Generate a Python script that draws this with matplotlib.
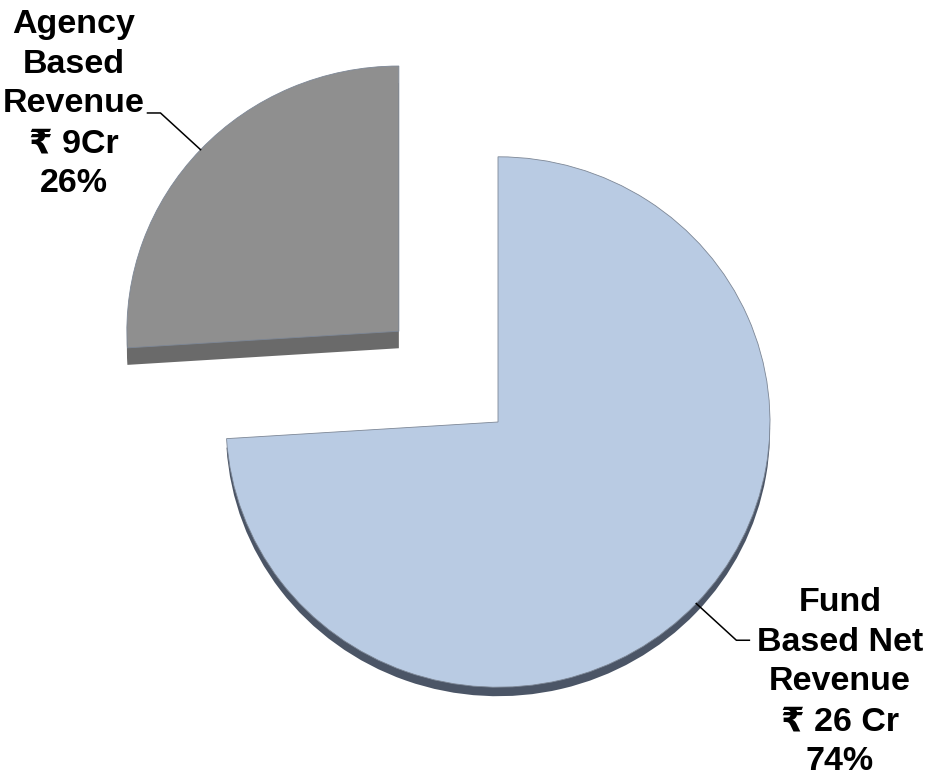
import matplotlib.pyplot as plt
import numpy as np

# data
labels = ['Fund\nBased Net\nRevenue\n₹ 26 Cr\n74%', 'Agency\nBased\nRevenue\n₹ 9Cr\n26%']
revenue_cr = [26, 9]
shares = [74, 26]

colors = ['#B9CBE3', '#8F8F8F']
side_colors = ['#4B5566', '#6A6A6A']
explode_frac = [0, 0.5]

plt.rcParams['font.family'] = ['Liberation Sans', 'DejaVu Sans']

W, H = 926, 777
fig = plt.figure(figsize=(W / 100, H / 100), dpi=100)
ax = fig.add_axes([0, 0, 1, 1])

# squash the pie a little vertically to get the tilted look
sy = 0.975
cx, r = 498, 272
cy = (H - 422) / sy
explode = [e * r for e in explode_frac]

# --- side of the disc (fake 3d thickness), drawn first, shifted down ---
ax.pie(shares, explode=explode, colors=[side_colors[0], 'none'], startangle=90,
       counterclock=False, radius=r, center=(cx, cy - 9 / sy), frame=True)
ax.pie(shares, explode=explode, colors=['none', side_colors[1]], startangle=90,
       counterclock=False, radius=r, center=(cx, cy - 17 / sy), frame=True)

# --- top surface ---
wedges, _ = ax.pie(shares, explode=explode, colors=colors, startangle=90,
                   counterclock=False, radius=r, center=(cx, cy), frame=True,
                   wedgeprops=dict(edgecolor='#7d8796', linewidth=0.6))

# label positions in pixels (centre of text block)
label_pos = [(840, 682), (74, 104)]

for w, lab, (tx, ty) in zip(wedges, labels, label_pos):
    ang = np.deg2rad((w.theta1 + w.theta2) / 2)
    wx, wy = w.center
    ex, ey = wx + r * np.cos(ang), wy + r * np.sin(ang)
    bx, by = ex + 55 * np.cos(ang), ey + 55 * np.sin(ang)
    hx = bx + 13 * np.sign(np.cos(ang))
    ax.plot([ex, bx, hx], [ey, by, by], color='black', lw=1.1)
    fig.text(tx / W, 1 - ty / H, lab, ha='center', va='center',
             multialignment='center', fontsize=24.5, fontweight='bold',
             linespacing=1.36)

ax.set_xlim(0, W)
ax.set_ylim(0, H / sy)
ax.set_aspect('auto')
ax.axis('off')

plt.savefig('out.png', dpi=100)
